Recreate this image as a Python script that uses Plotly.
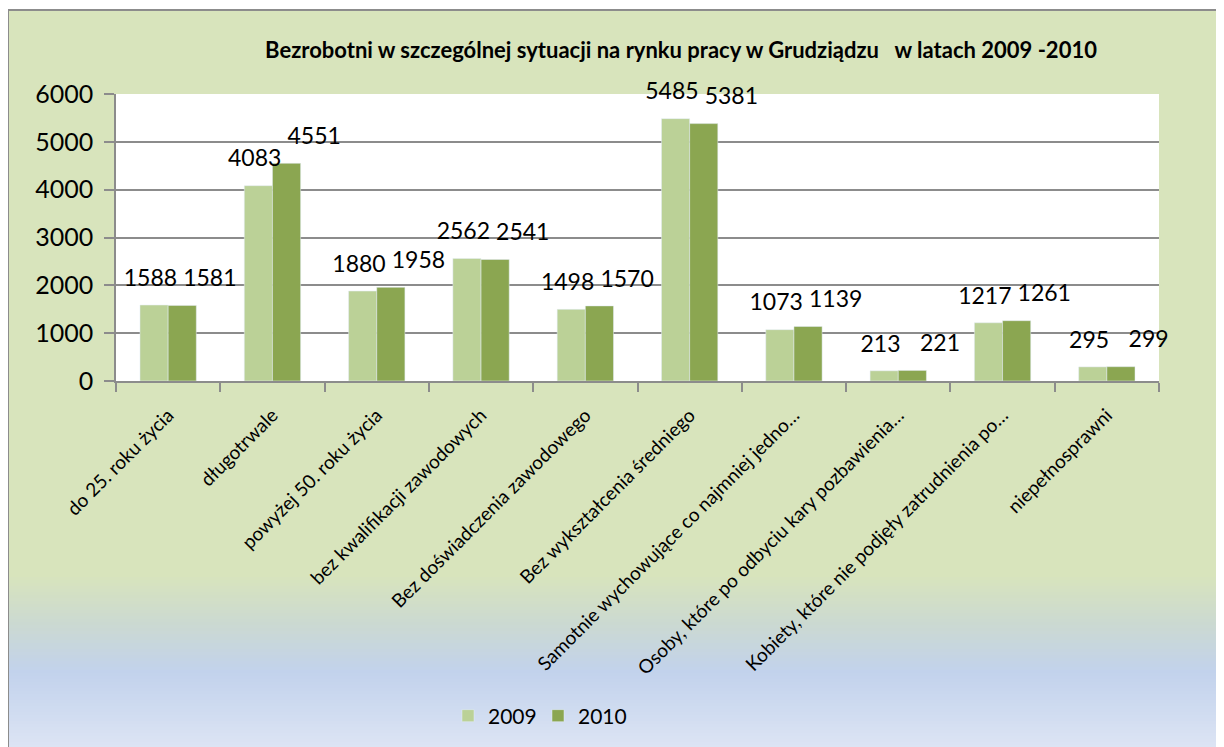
import plotly.graph_objects as go

categories = [
    "do 25. roku życia",
    "długotrwale",
    "powyżej 50. roku życia",
    "bez kwalifikacji zawodowych",
    "Bez doświadczenia zawodowego",
    "Bez wykształcenia średniego",
    "Samotnie wychowujące co najmniej jedno…",
    "Osoby, które po odbyciu kary pozbawienia…",
    "Kobiety, które nie podjęły zatrudnienia po…",
    "niepełnosprawni",
]
values_2009 = [1588, 4083, 1880, 2562, 1498, 5485, 1073, 213, 1217, 295]
values_2010 = [1581, 4551, 1958, 2541, 1570, 5381, 1139, 221, 1261, 299]
y_ticks = [0, 1000, 2000, 3000, 4000, 5000, 6000]

# page has an 8px body margin: figure pixel = reference pixel - 8
OFF = 8
W, H = 1224 - OFF, 747 - OFF
FONT = "Lato, 'Open Sans', sans-serif"
C2009, C2010 = "#BBD197", "#8BA651"

fig = go.Figure()
fig.add_trace(go.Bar(name="2009", x=categories, y=values_2009, marker_color=C2009,
                     hoverinfo="x+y"))
fig.add_trace(go.Bar(name="2010", x=categories, y=values_2010, marker_color=C2010,
                     hoverinfo="x+y"))

# data labels on an overlaid numeric axis aligned with the categories
idx = list(range(len(categories)))
label_marker = dict(size=20, color="rgba(0,0,0,0)")
fig.add_trace(go.Scatter(
    x=[i - 0.17 for i in idx], y=values_2009, xaxis="x2", mode="markers+text",
    marker=label_marker,
    text=[str(v) for v in values_2009], textposition="top center",
    textfont=dict(size=23, color="black", family=FONT),
    showlegend=False, cliponaxis=False, hoverinfo="skip",
))
fig.add_trace(go.Scatter(
    x=[i + 0.40 for i in idx], y=values_2010, xaxis="x2", mode="markers+text",
    marker=label_marker,
    text=[str(v) for v in values_2010], textposition="top center",
    textfont=dict(size=23, color="black", family=FONT),
    showlegend=False, cliponaxis=False, hoverinfo="skip",
))

L, R, T, B = 116 - OFF, 65, 94 - OFF, 366
ph = H - T - B
pw = W - L - R


def px_x(x):
    return (x - OFF - L) / pw


def px_y(y):
    return (H - B - (y - OFF)) / ph


def lerp(c1, c2, t):
    return tuple(round(a + (b - a) * t) for a, b in zip(c1, c2))


stops = [
    (10, (216, 228, 188)),
    (575, (216, 228, 188)),
    (625, (203, 217, 210)),
    (672, (194, 210, 236)),
    (747, (220, 228, 244)),
]
shapes = []
band = 3
y = 10
while y < 760:
    ym = min(y + band / 2, 747)
    col = stops[-1][1]
    for (a, ca), (b, cb) in zip(stops[:-1], stops[1:]):
        if a <= ym <= b:
            col = lerp(ca, cb, (ym - a) / (b - a))
            break
    shapes.append(dict(
        type="rect", xref="paper", yref="paper", layer="below",
        x0=px_x(8), x1=px_x(1260), y0=px_y(y + band + 0.5), y1=px_y(y),
        line_width=0, fillcolor="rgb(%d,%d,%d)" % col,
    ))
    y += band
# chart border (only left and top are visible)
shapes.append(dict(
    type="rect", xref="paper", yref="paper", layer="below",
    x0=px_x(8), x1=px_x(1260), y0=px_y(790), y1=px_y(10),
    line=dict(color="#8C8C8C", width=2), fillcolor="rgba(0,0,0,0)",
))
# white plot area
shapes.append(dict(
    type="rect", xref="x domain", yref="y domain", layer="below",
    x0=0, x1=1, y0=0, y1=1, line_width=0, fillcolor="white",
))

fig.update_layout(
    width=W, height=H,
    margin=dict(l=L, r=R, t=T, b=B, autoexpand=False),
    paper_bgcolor="white",
    plot_bgcolor="rgba(0,0,0,0)",
    barmode="group", bargap=0.46, bargroupgap=0,
    font=dict(family=FONT, color="black"),
    title=dict(
        text="<b>Bezrobotni w szczególnej sytuacji na rynku pracy w Grudziądzu\u00a0\u00a0 w latach 2009 -2010</b>",
        x=(681 - OFF) / W, xanchor="center", xref="container",
        y=1 - (50 - OFF) / H, yanchor="middle", yref="container",
        font=dict(size=22, family=FONT, color="black"),
    ),
    legend=dict(
        orientation="h", x=px_x(538), xanchor="center",
        y=px_y(716), yanchor="middle",
        font=dict(size=21, family=FONT), bgcolor="rgba(0,0,0,0)",
        entrywidth=45,
    ),
    shapes=shapes,
    showlegend=True,
    xaxis2=dict(overlaying="x", range=[-0.5, len(categories) - 0.5],
                visible=False, fixedrange=True),
)
fig.update_layout(xaxis=dict(
    type="category", tickangle=-45, tickson="boundaries",
    ticks="outside", ticklen=9, tickcolor="#8C8C8C", tickwidth=1.5,
    showline=True, linecolor="#8C8C8C", linewidth=1.5,
    showgrid=False, tickfont=dict(size=19, family=FONT, color="black"),
    ticklabelstandoff=14,
))
fig.update_yaxes(
    range=[0, 6000], tickvals=y_ticks, ticks="outside", ticklen=10,
    tickcolor="#8C8C8C", tickwidth=1.5,
    showline=True, linecolor="#8C8C8C", linewidth=1.5,
    showgrid=True, gridcolor="#8C8C8C", gridwidth=1.5,
    zeroline=False, tickfont=dict(size=25, family=FONT, color="black"),
    ticklabelstandoff=6,
)

fig.write_html("out.html")
